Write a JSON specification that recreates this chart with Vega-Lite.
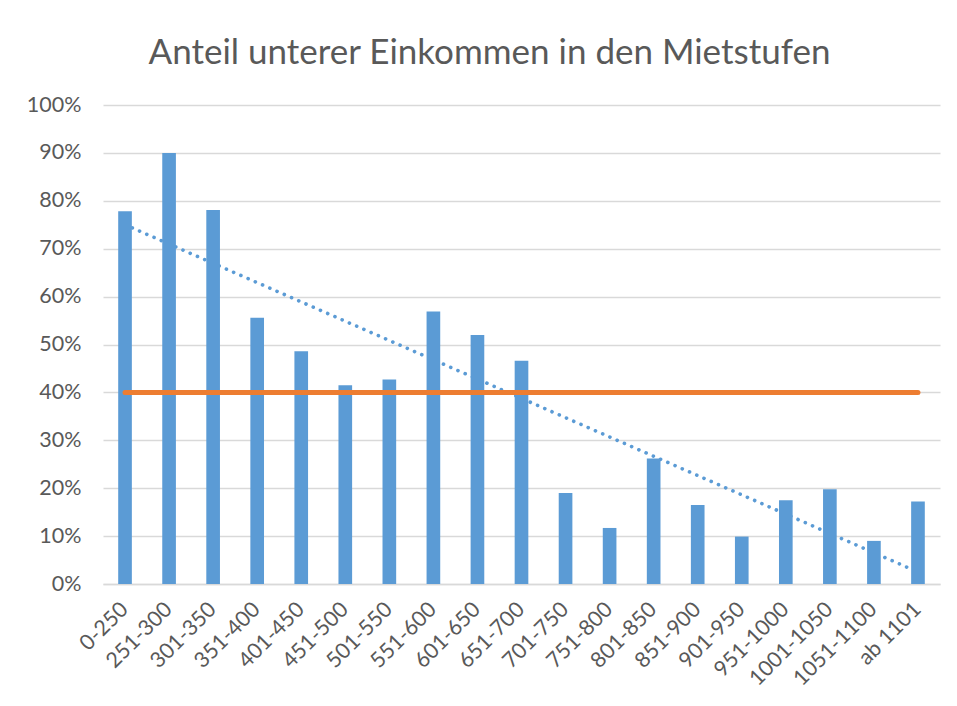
{
  "$schema": "https://vega.github.io/schema/vega-lite/v6.json",
  "width": 837,
  "height": 479,
  "autosize": {"type": "none"},
  "padding": {"left": 103, "top": 105, "right": 17, "bottom": 122},
  "background": "white",
  "config": {
    "view": {"stroke": null},
    "font": "Lato",
    "axis": {"labelFont": "Lato", "labelColor": "#595959", "labelFontSize": 21.5}
  },
  "title": {
    "text": "Anteil unterer Einkommen in den Mietstufen",
    "font": "Lato",
    "fontSize": 35,
    "fontWeight": "normal",
    "color": "#595959",
    "anchor": "middle",
    "dx": -32,
    "offset": 23
  },
  "datasets": {
    "bars": [
      {"Miete": "0-250", "Anteil": 0.778},
      {"Miete": "251-300", "Anteil": 0.900},
      {"Miete": "301-350", "Anteil": 0.781},
      {"Miete": "351-400", "Anteil": 0.556},
      {"Miete": "401-450", "Anteil": 0.486},
      {"Miete": "451-500", "Anteil": 0.415},
      {"Miete": "501-550", "Anteil": 0.427},
      {"Miete": "551-600", "Anteil": 0.569},
      {"Miete": "601-650", "Anteil": 0.520},
      {"Miete": "651-700", "Anteil": 0.466},
      {"Miete": "701-750", "Anteil": 0.190},
      {"Miete": "751-800", "Anteil": 0.117},
      {"Miete": "801-850", "Anteil": 0.262},
      {"Miete": "851-900", "Anteil": 0.165},
      {"Miete": "901-950", "Anteil": 0.099},
      {"Miete": "951-1000", "Anteil": 0.175},
      {"Miete": "1001-1050", "Anteil": 0.198},
      {"Miete": "1051-1100", "Anteil": 0.090},
      {"Miete": "ab 1101", "Anteil": 0.172}
    ],
    "schwelle": [
      {"Miete": "0-250", "Wert": 0.40},
      {"Miete": "ab 1101", "Wert": 0.40}
    ],
    "trend": [
      {"Miete": "0-250", "Wert": 0.750},
      {"Miete": "ab 1101", "Wert": 0.025}
    ]
  },
  "encoding": {
    "x": {
      "field": "Miete",
      "type": "nominal",
      "sort": null,
      "scale": {
        "domain": ["0-250", "251-300", "301-350", "351-400", "401-450", "451-500", "501-550", "551-600", "601-650", "651-700", "701-750", "751-800", "801-850", "851-900", "901-950", "951-1000", "1001-1050", "1051-1100", "ab 1101"],
        "paddingInner": 0,
        "paddingOuter": 0
      },
      "axis": {
        "title": null,
        "labelAngle": -45,
        "labelAlign": "right",
        "labelBaseline": "middle",
        "labelPadding": 22,
        "ticks": false,
        "domain": true,
        "domainColor": "#D9D9D9",
        "domainWidth": 1.5
      }
    }
  },
  "layer": [
    {
      "data": {"name": "trend"},
      "mark": {"type": "line", "color": "#5B9BD5", "strokeWidth": 3.6, "strokeDash": [0.1, 7.8], "strokeCap": "round"},
      "encoding": {
        "y": {"field": "Wert", "type": "quantitative"}
      }
    },
    {
      "data": {"name": "bars"},
      "mark": {"type": "bar", "color": "#5B9BD5", "width": {"band": 0.31}},
      "encoding": {
        "y": {
          "field": "Anteil",
          "type": "quantitative",
          "scale": {"domain": [0, 1], "nice": false},
          "axis": {
            "title": null,
            "format": ".0%",
            "values": [0, 0.1, 0.2, 0.3, 0.4, 0.5, 0.6, 0.7, 0.8, 0.9, 1.0],
            "grid": true,
            "gridColor": "#D9D9D9",
            "gridWidth": 1.5,
            "ticks": false,
            "domain": false,
            "labelPadding": 22
          }
        }
      }
    },
    {
      "data": {"name": "schwelle"},
      "mark": {"type": "line", "color": "#ED7D31", "strokeWidth": 5, "strokeCap": "round"},
      "encoding": {
        "y": {"field": "Wert", "type": "quantitative"}
      }
    }
  ]
}
